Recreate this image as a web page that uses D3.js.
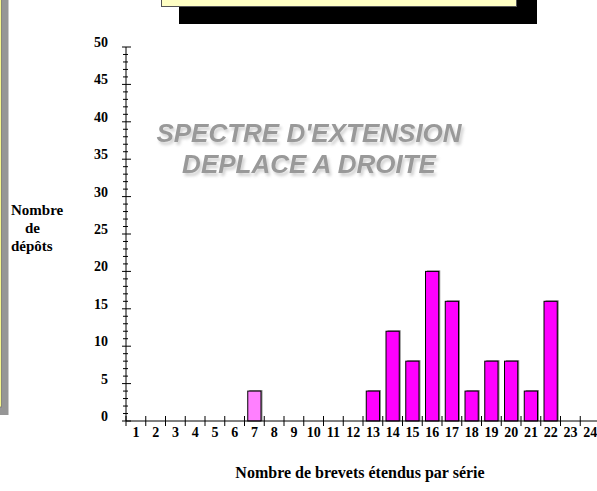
<!DOCTYPE html>
<html>
<head>
<meta charset="utf-8">
<script src="https://cdn.jsdelivr.net/npm/d3@7"></script>
<style>
  body { margin: 0; background: #fff; }
  svg { display: block; }
</style>
</head>
<body>
<div id="chart"></div>
<script>
// data
const categories = d3.range(1, 25)
const counts = [0, 0, 0, 0, 0, 0, 4, 0, 0, 0, 0, 0, 4, 12, 8, 20, 16, 4, 8, 8, 4, 16, 0, 0]
const yTicks = [0, 5, 10, 15, 20, 25, 30, 35, 40, 45, 50]
const yTitle = ['Nombre', 'de', 'dépôts']
const xTitle = 'Nombre de brevets étendus par série'
const watermark = ["SPECTRE D'EXTENSION", 'DEPLACE A DROITE']

const w = 597, h = 491
const serif = '"Liberation Serif", "Times New Roman", serif'

const svg = d3.select('#chart').append('svg')
    .attr('width', w)
    .attr('height', h)

const defs = svg.append('defs')
const f = defs.append('filter').attr('id', 'soft').attr('x', '-10%').attr('y', '-30%')
    .attr('width', '120%').attr('height', '160%')
f.append('feGaussianBlur').attr('in', 'SourceAlpha').attr('stdDeviation', 1.6).attr('result', 'b')
f.append('feOffset').attr('in', 'b').attr('dx', 2).attr('dy', 3).attr('result', 'o')
f.append('feFlood').attr('flood-color', '#d0d0d0').attr('result', 'c')
f.append('feComposite').attr('in', 'c').attr('in2', 'o').attr('operator', 'in').attr('result', 's')
const m = f.append('feMerge')
m.append('feMergeNode').attr('in', 's')
m.append('feMergeNode').attr('in', 'SourceGraphic')

// decorative boxes cut by the frame
svg.append('rect').attr('x', -90).attr('y', -10).attr('width', 98.5).attr('height', 425).attr('fill', '#969696')
svg.append('rect').attr('x', -100).attr('y', -20).attr('width', 101.5).attr('height', 427)
    .attr('fill', '#f4f48c').attr('stroke', '#777').attr('stroke-width', 0.8)

svg.append('rect').attr('x', 179).attr('y', -10).attr('width', 358).attr('height', 34).attr('fill', '#000')
svg.append('rect').attr('x', 161.5).attr('y', -20).attr('width', 355).attr('height', 26.5)
    .attr('fill', '#ffffc4').attr('stroke', '#555').attr('stroke-width', 1)

// scales
const x = d3.scaleBand().domain(categories).range([126, 600]).paddingInner(0.33).paddingOuter(0.165)
const xl = d3.scaleLinear().domain([0, 24]).range([126, 600])
const y = d3.scaleLinear().domain([0, 50]).range([421, 47])

// watermark
svg.append('g').attr('filter', 'url(#soft)')
  .selectAll('text')
  .data(watermark)
  .join('text')
    .attr('x', 309)
    .attr('y', (d, i) => 142 + i * 31)
    .attr('text-anchor', 'middle')
    .attr('font-family', '"Liberation Sans", Arial, sans-serif')
    .attr('font-weight', 'bold')
    .attr('font-style', 'italic')
    .attr('font-size', 26)
    .attr('fill', '#999999')
    .text(d => d)

// bars
const bars = svg.append('g')
const data = categories.map((c, i) => ({ c, v: counts[i] })).filter(d => d.v > 0)
bars.selectAll('rect.sh')
  .data(data)
  .join('rect')
    .attr('class', 'sh')
    .attr('x', d => x(d.c) + 1.5)
    .attr('y', d => y(d.v) - 1)
    .attr('width', x.bandwidth())
    .attr('height', d => y(0) - y(d.v) + 1)
    .attr('fill', '#8a8a8a')
bars.selectAll('rect.bar')
  .data(data)
  .join('rect')
    .attr('class', 'bar')
    .attr('x', d => x(d.c))
    .attr('y', d => y(d.v))
    .attr('width', x.bandwidth())
    .attr('height', d => y(0) - y(d.v))
    .attr('fill', d => d.c === 7 ? '#ff80ff' : '#ff00ff')
    .attr('stroke', '#000')
    .attr('stroke-width', 1)

// y axis
const yAxis = svg.append('g').attr('transform', 'translate(126,0)')
yAxis.append('line').attr('y1', y(50)).attr('y2', y(0)).attr('stroke', '#000')
yAxis.selectAll('line.minor')
  .data(d3.range(0, 51).filter(v => v % 5 !== 0))
  .join('line')
    .attr('class', 'minor')
    .attr('x1', -3).attr('x2', 2)
    .attr('y1', d => y(d)).attr('y2', d => y(d))
    .attr('stroke', '#000')
yAxis.selectAll('line.major')
  .data(yTicks)
  .join('line')
    .attr('class', 'major')
    .attr('x1', -4).attr('x2', 5)
    .attr('y1', d => y(d)).attr('y2', d => y(d))
    .attr('stroke', '#000')
yAxis.selectAll('text')
  .data(yTicks)
  .join('text')
    .attr('x', -18)
    .attr('y', d => y(d))
    .attr('text-anchor', 'end')
    .attr('font-family', serif)
    .attr('font-weight', 'bold')
    .attr('font-size', 14)
    .text(d => d)

// x axis
const xAxis = svg.append('g')
xAxis.append('line').attr('x1', 126).attr('x2', w).attr('y1', y(0)).attr('y2', y(0)).attr('stroke', '#000')
xAxis.selectAll('line.tick')
  .data(d3.range(0, 24))
  .join('line')
    .attr('class', 'tick')
    .attr('x1', d => xl(d)).attr('x2', d => xl(d))
    .attr('y1', y(0) - 5).attr('y2', y(0) + 5)
    .attr('stroke', '#000')
xAxis.selectAll('text')
  .data(categories)
  .join('text')
    .attr('x', d => x(d) + x.bandwidth() / 2)
    .attr('y', 437)
    .attr('text-anchor', 'middle')
    .attr('font-family', serif)
    .attr('font-weight', 'bold')
    .attr('font-size', 14)
    .text(d => d)

// titles
svg.append('text')
    .attr('x', 360)
    .attr('y', 478)
    .attr('text-anchor', 'middle')
    .attr('font-family', serif)
    .attr('font-weight', 'bold')
    .attr('font-size', 16)
    .text(xTitle)

svg.append('g').selectAll('text')
  .data(yTitle)
  .join('text')
    .attr('x', (d, i) => i === 1 ? 25 : 11)
    .attr('y', (d, i) => 215 + i * 18)
    .attr('font-family', serif)
    .attr('font-weight', 'bold')
    .attr('font-size', 15)
    .text(d => d)
</script>
</body>
</html>
